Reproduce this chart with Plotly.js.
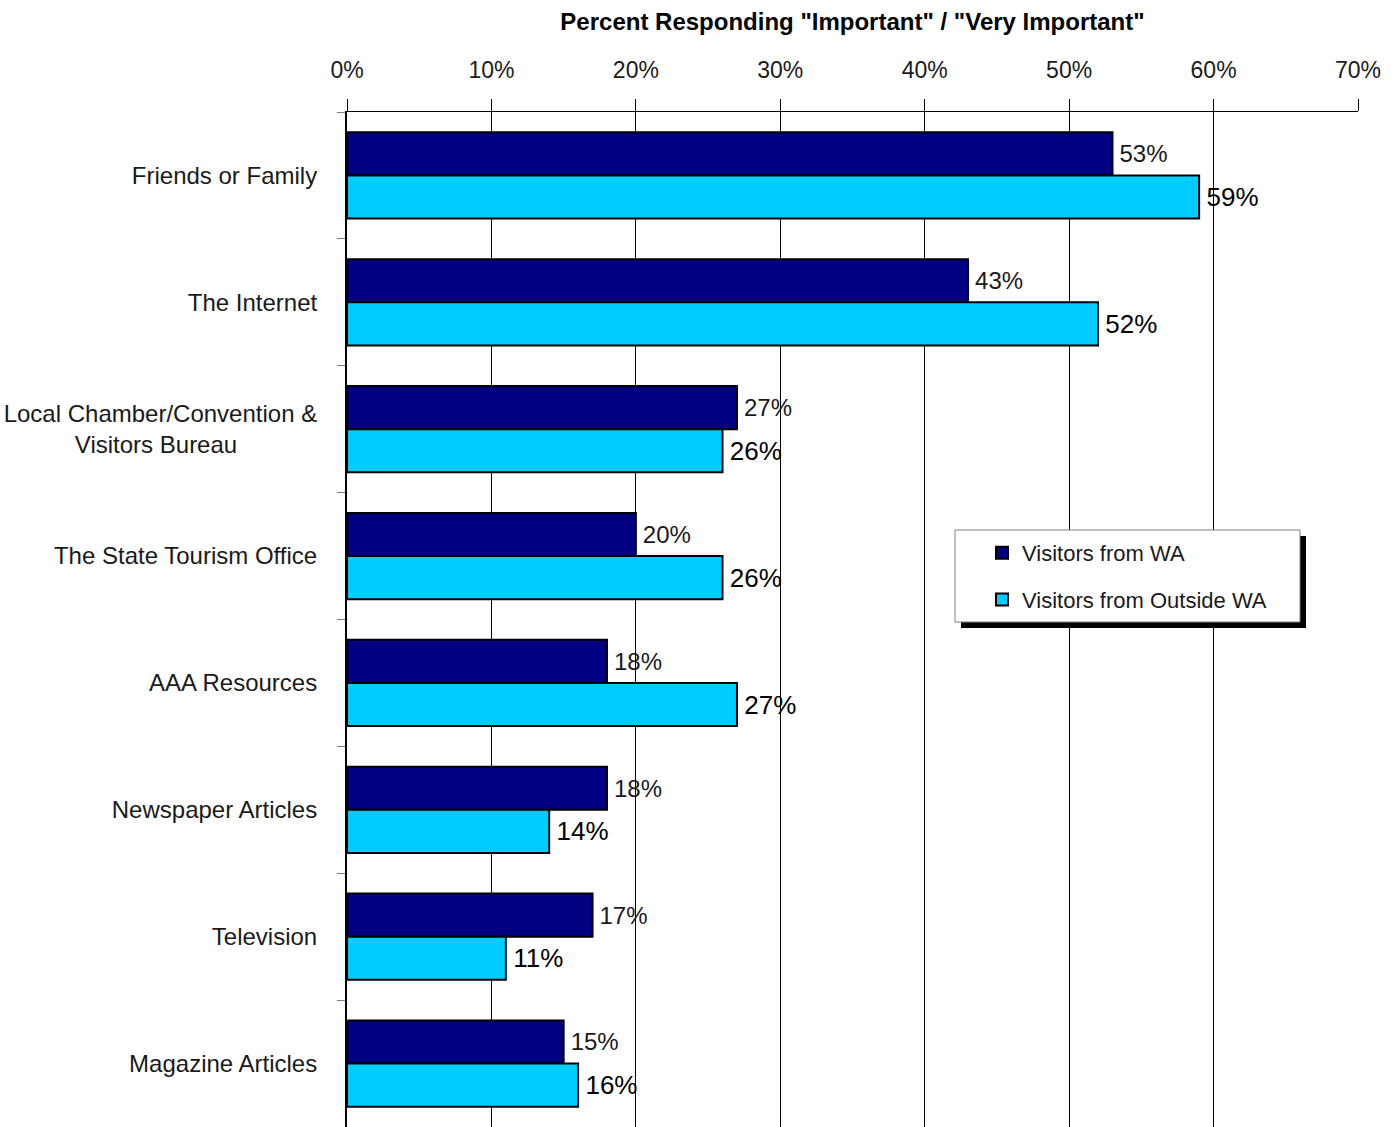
<!DOCTYPE html>
<html>
<head>
<meta charset="utf-8">
<script src="https://cdn.plot.ly/plotly-3.0.1.min.js"></script>
<style>html,body{margin:0;padding:0;background:#fff;}#chart{width:1398px;height:1127px;}</style>
</head>
<body>
<div id="chart"></div>
<script>
const NBSP = '\u00a0';
const GAP = '\u2006';
const categories = [
  'Friends or Family',
  'The Internet',
  'Local Chamber/Convention &<br>Visitors Bureau' + NBSP.repeat(12),
  'The State Tourism Office',
  'AAA Resources',
  'Newspaper Articles',
  'Television',
  'Magazine Articles'
];
const waValues = [53, 43, 27, 20, 18, 18, 17, 15];
const outsideValues = [59, 52, 26, 26, 27, 14, 11, 16];
const xTickVals = [0, 10, 20, 30, 40, 50, 60, 70];
const xTickText = ['0%', '10%', '20%', '30%', '40%', '50%', '60%', '70%'];
const seriesNames = ['Visitors from WA', 'Visitors from Outside WA'];

const font = '"Liberation Sans", Arial, sans-serif';

// pixel helpers for paper coordinates (plot area 347..1358 x 112..1127)
const px = x => (x - 347) / 1011;
const py = y => (1127 - y) / 1015;

const traces = [
  {
    type: 'bar', orientation: 'h', name: seriesNames[0], legendgroup: 'a',
    y: categories, x: waValues,
    text: waValues.map(v => GAP + v + '%'),
    textposition: 'outside', constraintext: 'none', cliponaxis: false,
    textfont: {family: font, size: 24, color: '#1a1a1a'},
    marker: {color: '#000080', line: {color: '#000000', width: 2}},
    hoverinfo: 'skip'
  },
  {
    type: 'bar', orientation: 'h', name: seriesNames[1], legendgroup: 'b',
    y: categories, x: outsideValues,
    text: outsideValues.map(v => GAP + v + '%'),
    textposition: 'outside', constraintext: 'none', cliponaxis: false,
    textfont: {family: font, size: 26, color: '#000000'},
    marker: {color: '#00CCFF', line: {color: '#000000', width: 2}},
    hoverinfo: 'skip'
  }
];

const layout = {
  width: 1398, height: 1127,
  margin: {l: 347, r: 40, t: 112, b: 0, pad: 0},
  paper_bgcolor: '#ffffff', plot_bgcolor: '#ffffff',
  barmode: 'group', bargap: 0.32, bargroupgap: 0,
  showlegend: true,
  title: {
    text: '<b>Percent Responding "Important" / "Very Important"</b>',
    font: {family: font, size: 24, color: '#000000'},
    x: 0.5, xref: 'paper', y: 1 - 22/1127, yref: 'container', yanchor: 'middle'
  },
  xaxis: {
    side: 'top', range: [0, 70], tickvals: xTickVals, ticktext: xTickText,
    showgrid: true, gridcolor: '#000000', gridwidth: 1,
    showline: true, linecolor: '#000000', linewidth: 1, mirror: false,
    ticks: 'outside', ticklen: 12, tickcolor: '#000000', tickwidth: 1,
    zeroline: false, fixedrange: true,
    tickfont: {family: font, size: 23, color: '#1a1a1a'},
    ticklabelstandoff: 12
  },
  yaxis: {
    autorange: 'reversed', type: 'category',
    showgrid: false, showline: true, linecolor: '#000000', linewidth: 2,
    ticks: 'outside', tickson: 'boundaries', ticklen: 8, tickcolor: '#808080', tickwidth: 1,
    ticklabelstandoff: 23,
    tickfont: {family: font, size: 24, color: '#1a1a1a'},
    fixedrange: true
  },
  legend: {
    x: px(982), y: py(532), xanchor: 'left', yanchor: 'top',
    bgcolor: 'rgba(0,0,0,0)', borderwidth: 0,
    font: {family: font, size: 22, color: '#1a1a1a'},
    traceorder: 'grouped', tracegroupgap: 15, itemwidth: 30
  },
  shapes: [
    {
      type: 'rect', xref: 'paper', yref: 'paper', layer: 'above',
      x0: px(961), x1: px(1306), y0: py(628), y1: py(536),
      fillcolor: '#000000', line: {width: 0}
    },
    {
      type: 'rect', xref: 'paper', yref: 'paper', layer: 'above',
      x0: px(955), x1: px(1300), y0: py(622), y1: py(530),
      fillcolor: '#ffffff', line: {color: '#808080', width: 1}
    }
  ]
};

Plotly.newPlot('chart', traces, layout, {displayModeBar: false, staticPlot: true});
</script>
</body>
</html>
